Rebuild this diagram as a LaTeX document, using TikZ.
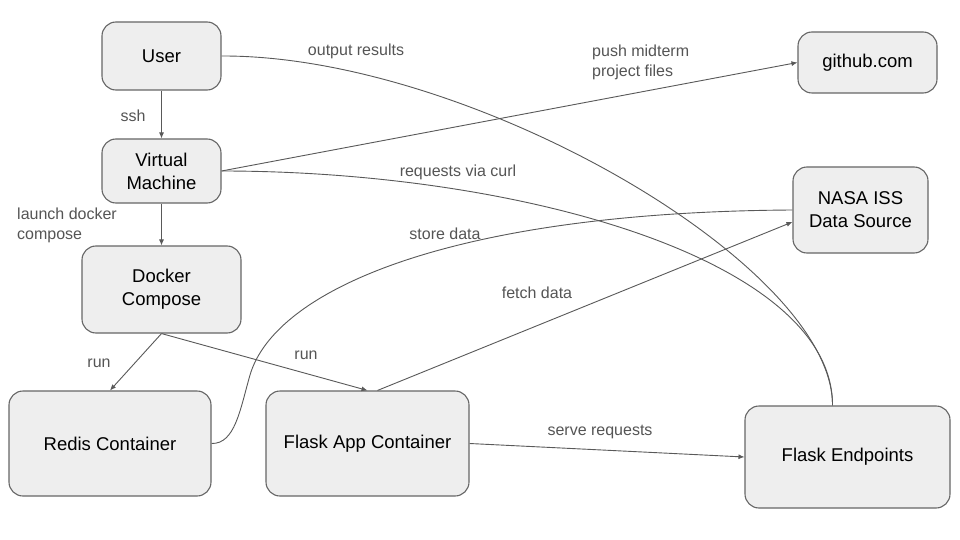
\documentclass[tikz,border=0pt]{standalone}
\usepackage{fontspec}
\setmainfont{Liberation Sans}
\usetikzlibrary{arrows.meta}
\definecolor{boxfill}{HTML}{EEEEEE}
\definecolor{boxline}{HTML}{666666}
\definecolor{conn}{HTML}{595959}
\definecolor{lbl}{HTML}{555555}
\tikzset{
  box/.style={draw=boxline, fill=boxfill, line width=1.1pt, rounded corners=14pt,
    inner sep=0pt, align=center, text=black, font=\fontsize{18.5}{23}\selectfont},
  lab/.style={text=lbl, font=\fontsize{16}{20}\selectfont, inner sep=0pt},
  conline/.style={draw=conn, line width=0.9pt},
  arr/.style={conline, -{Latex[length=6pt,width=5pt]}}
}
\begin{document}
\begin{tikzpicture}[x=1pt,y=-1pt]
\fill[white] (0,0) rectangle (960,540);
\useasboundingbox (0,0) rectangle (960,540);

\node[box, minimum width=119pt, minimum height=68pt] (user) at (161.5,56) {User};
\node[box, minimum width=119pt, minimum height=64pt] (vm) at (161.5,171) {Virtual\\Machine};
\node[box, minimum width=159pt, minimum height=87pt] (dc) at (161.5,289.5) {Docker\\Compose};
\node[box, minimum width=202pt, minimum height=105pt] (redis) at (110,443.5) {Redis Container};
\node[box, minimum width=203pt, minimum height=105pt] (flask) at (367.5,443.5) {Flask App Container};
\node[box, minimum width=205pt, minimum height=102pt] (ep) at (847.5,457) {Flask Endpoints};
\node[box, minimum width=139pt, minimum height=61pt] (gh) at (867.5,62.5) {github.com};
\node[box, minimum width=135pt, minimum height=86pt] (nasa) at (860.5,210) {NASA ISS\\Data Source};

\coordinate (rbend) at (250,375);

% straight arrows
\draw[arr] (user.south) -- (vm.north);
\draw[arr] (vm.south) -- (dc.north);
\draw[arr] (dc.south) -- (redis.north);
\draw[arr] (dc.south) -- (flask.north);
\draw[arr] (vm.east) -- (gh.west);
\draw[arr] ([xshift=10pt]flask.north) -- ([yshift=-12pt]nasa.west);
\draw[arr] (flask.east) -- (ep.west);

% curves
\draw[conline] (user.east) .. controls (470,55) and (833,265) .. ([xshift=-15pt]ep.north);
\draw[conline] (vm.east) .. controls (520,171) and (833,260) .. ([xshift=-15pt]ep.north);
\draw[conline] (redis.east) .. controls (235,444) and (240,410) .. (rbend)
  .. controls (275,290) and (450,212) .. (nasa.west);

% labels
\node[lab] (l1) at (133,116) {ssh};
\node[lab, anchor=west, align=left] (l2) at (17,225) {launch docker\\compose};
\node[lab] (l3) at (99,363) {run};
\node[lab] (l4) at (306,355) {run};
\node[lab] (l5) at (600,432) {serve requests};
\node[lab] (l6) at (537,293) {fetch data};
\node[lab] (l7) at (445,234) {store data};
\node[lab] (l8) at (458,172) {requests via curl};
\node[lab] (l9) at (356,51) {output results};
\node[lab, anchor=west, align=left] (l10) at (592,62.5) {push midterm\\project files};
\end{tikzpicture}
\end{document}
